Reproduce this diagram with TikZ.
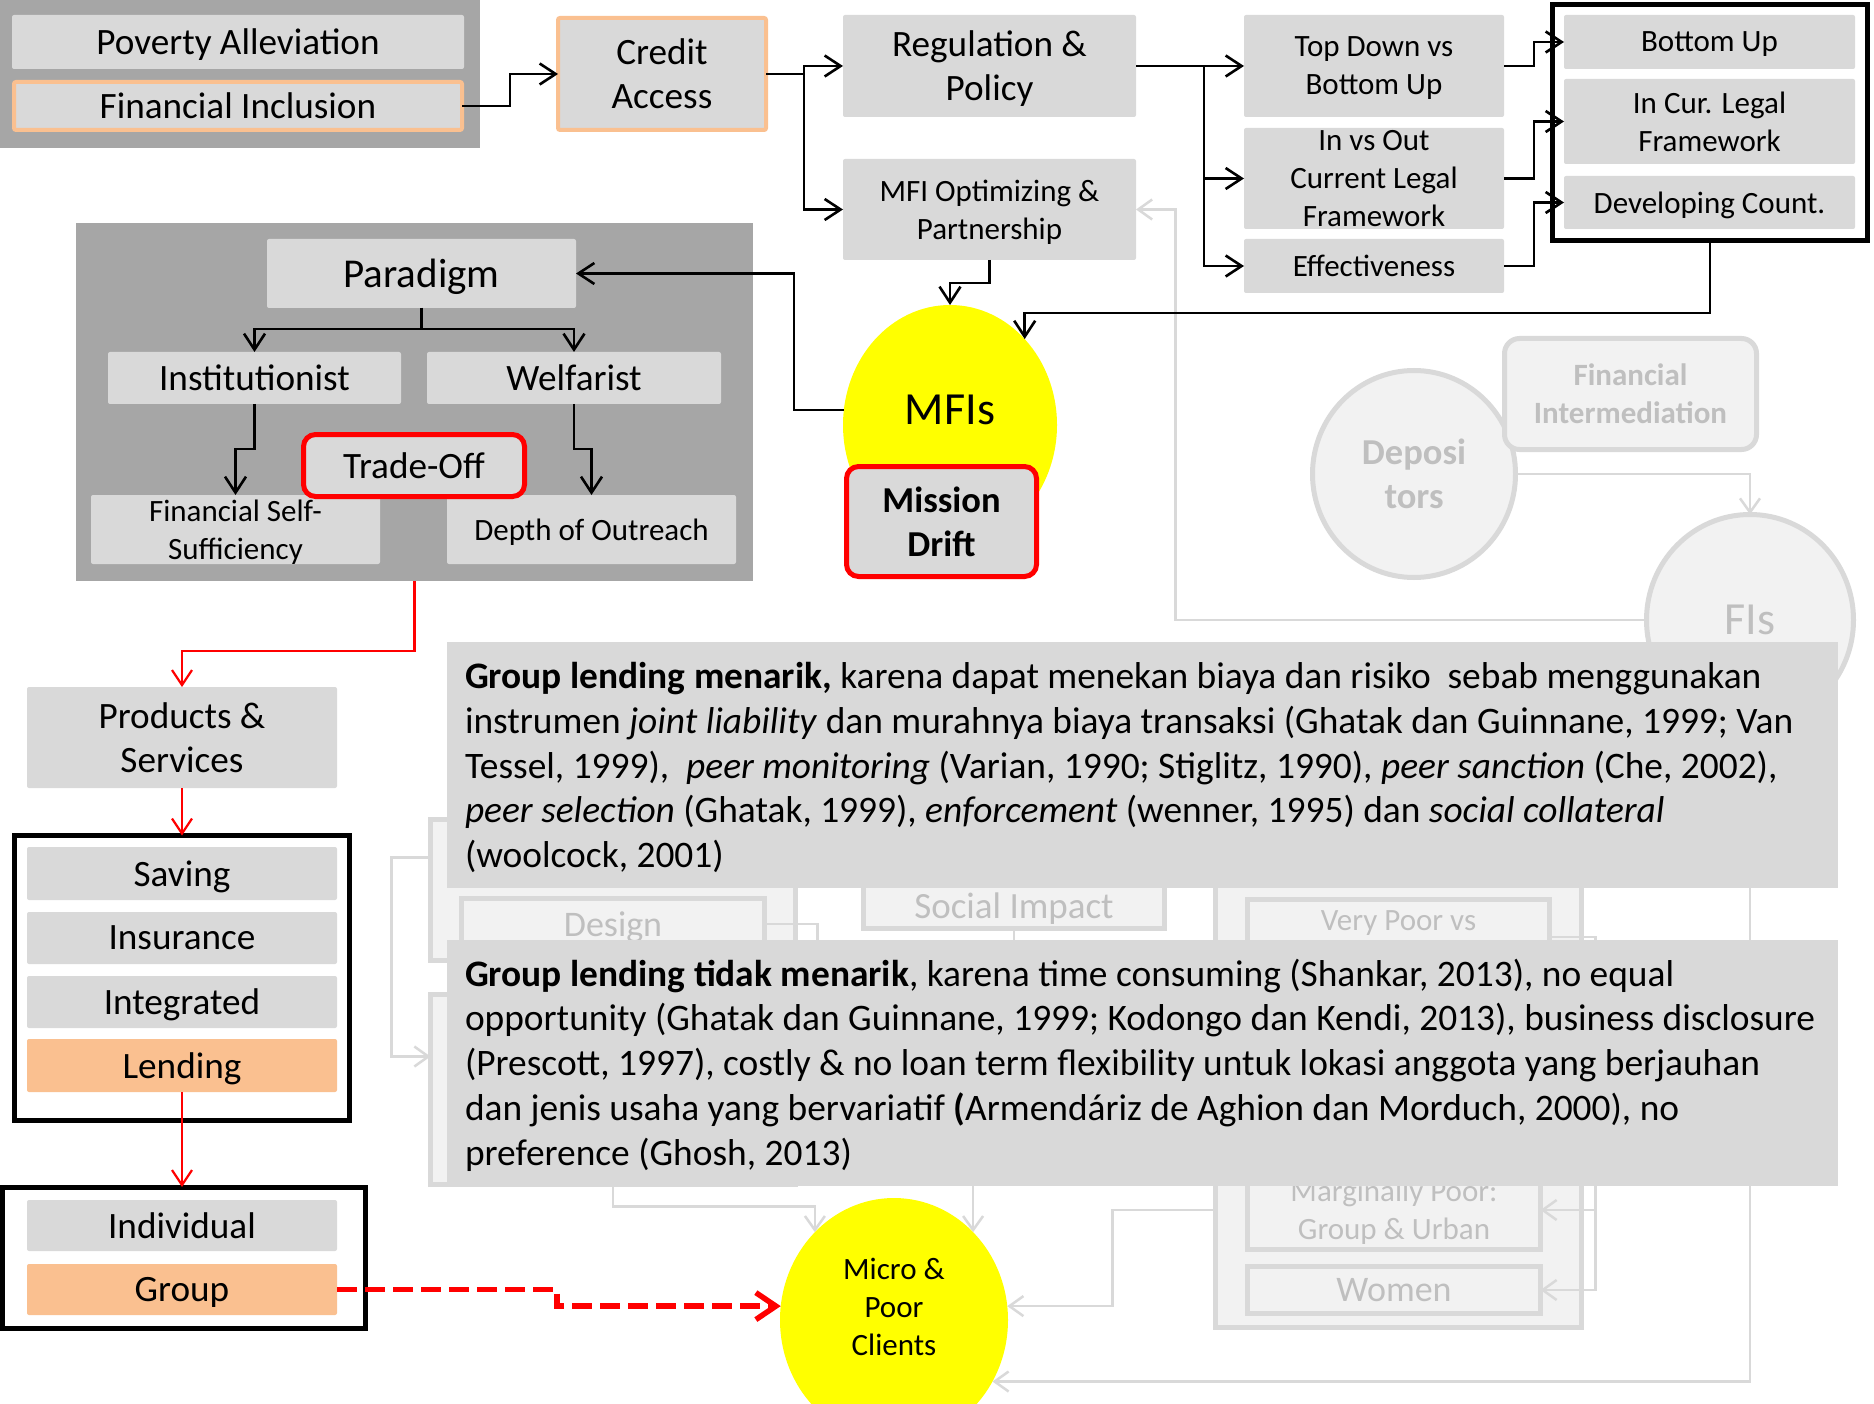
\documentclass[tikz,border=0pt]{standalone}
\usepackage{fontspec}
\setmainfont{Carlito}
\usetikzlibrary{arrows.meta,shapes.geometric,calc}

\definecolor{boxgray}{HTML}{D9D9D9}
\definecolor{groupgray}{HTML}{A6A6A6}
\definecolor{peach}{HTML}{FAC090}
\definecolor{ghostfill}{HTML}{F2F2F2}
\definecolor{ghostline}{HTML}{D9D9D9}
\definecolor{ghosttext}{HTML}{BFBFBF}
\definecolor{sun}{HTML}{FFFF00}

\newcommand\fsz[2]{\fontsize{#1pt}{#2pt}\selectfont}

\pgfdeclarelayer{paper}
\pgfdeclarelayer{ghostnodes}
\pgfdeclarelayer{ghostlinks}
\pgfsetlayers{paper,ghostnodes,ghostlinks,main}

\begin{document}
\begin{tikzpicture}[x=1pt,y=-1pt,
  every node/.style={inner sep=0pt,outer sep=0pt,align=center,text=black,text depth=-2pt},
  grp/.style={fill=groupgray},
  gbox/.style={fill=boxgray,rounded corners=2pt},
  peachbox/.style={fill=peach,rounded corners=2pt},
  peachrim/.style={draw=peach,line width=4pt},
  redrim/.style={draw=red,line width=5pt,rounded corners=12pt},
  boxframe/.style={draw=black,line width=5pt,fill=white},
  blob/.style={ellipse,fill=sun},
  ghostbox/.style={draw=ghostline,line width=5pt,fill=ghostfill,text=ghosttext},
  ghostcirc/.style={ellipse,draw=ghostline,line width=5pt,fill=ghostfill,text=ghosttext},
  tbox/.style={fill=boxgray},
  bigtext/.style={font=\fsz{37.2}{44}},
  smalltext/.style={font=\fsz{31}{38},text depth=-5pt},
  blacklink/.style={draw=black,line width=2.6pt,-{Straight Barb[length=16pt,width=21pt]}},
  redlink/.style={draw=red,line width=2.2pt,-{Straight Barb[length=15pt,width=20pt]}},
  reddash/.style={draw=red,line width=5.5pt,dash pattern=on 20pt off 8pt,-{Straight Barb[length=20pt,width=27pt]}},
  ghostlink/.style={draw=ghostline,line width=2.5pt,-{Straight Barb[length=14pt,width=20pt]}},
  ghostpath/.style={draw=ghostline,line width=2.5pt},
]
\begin{pgfonlayer}{paper}
\fill[white] (0,0) rectangle (1874,1404);
\end{pgfonlayer}
\useasboundingbox (0,0) rectangle (1874,1404);

% goals and access
\node[grp,minimum width=480,minimum height=148] (goalgrp) at (240,74) {};
\node[gbox,bigtext,minimum width=452,minimum height=54] (poverty) at (238,42) {Poverty Alleviation};
\node[gbox,peachrim,bigtext,minimum width=448,minimum height=48] (fininc) at (238,106) {Financial Inclusion};
\node[gbox,peachrim,bigtext,minimum width=208,minimum height=112] (credit) at (662,74) {Credit\\Access};

% regulation branch
\node[gbox,bigtext,minimum width=293,minimum height=102] (reg) at (989.5,66) {Regulation \&\\Policy};
\node[gbox,smalltext,minimum width=293,minimum height=101] (mfiopt) at (989.5,209.5) {MFI Optimizing \&\\Partnership};
\node[gbox,smalltext,minimum width=260,minimum height=102] (topdown) at (1374,66) {Top Down vs\\Bottom Up};
\node[gbox,smalltext,minimum width=260,minimum height=101] (inout) at (1374,178.5) {In vs Out\\Current Legal\\Framework};
\node[gbox,smalltext,minimum width=260,minimum height=54] (effect) at (1374,266) {Effectiveness};
\node[boxframe,minimum width=315,minimum height=236] (bugrp) at (1710,122.5) {};
\node[gbox,smalltext,minimum width=291,minimum height=54] (bottomup) at (1709.5,42) {Bottom Up};
\node[gbox,smalltext,minimum width=291,minimum height=85] (incur) at (1709.5,121.5) {In Cur. Legal\\Framework};
\node[gbox,smalltext,minimum width=291,minimum height=53] (devcount) at (1709.5,202.5) {Developing Count.};

% paradigm block
\node[grp,minimum width=677,minimum height=358] (paragrp) at (414.5,402) {};
\node[gbox,font=\fsz{41}{48},minimum width=309,minimum height=69] (paradigm) at (421.5,273.5) {Paradigm};
\node[gbox,bigtext,minimum width=293,minimum height=52] (inst) at (254.5,378) {Institutionist};
\node[gbox,bigtext,minimum width=294,minimum height=52] (welf) at (574,378) {Welfarist};
\node[gbox,smalltext,minimum width=289,minimum height=69] (fss) at (235.5,529.5) {Financial Self-\\Sufficiency};
\node[gbox,smalltext,minimum width=289,minimum height=69] (depth) at (591.5,529.5) {Depth of Outreach};
\node[gbox,redrim,bigtext,minimum width=221,minimum height=62] (tradeoff) at (414,465.5) {Trade-Off};

% MFIs
\node[blob,minimum width=214,minimum height=240,
  label={[name=mfisname,font=\fsz{46}{52},yshift=15pt]center:MFIs}] (mfis) at (950,425) {};
\node[gbox,redrim,font=\bfseries\fsz{36.5}{44},minimum width=190,minimum height=110] (drift) at (941.5,521.5) {Mission\\Drift};

% argument boxes
\node[tbox,minimum width=1391,minimum height=246] (tb1) at (1142.5,765) {};
\node[anchor=base west,align=left,font=\fsz{37.4}{44.7}] (tb1text) at (465,867.5)
{\textbf{Group lending menarik,} karena dapat menekan biaya dan risiko\ \ sebab menggunakan\\
instrumen \textit{joint liability} dan murahnya biaya transaksi (Ghatak dan Guinnane, 1999; Van\\
Tessel, 1999),\ \ \textit{peer monitoring} (Varian, 1990; Stiglitz, 1990), \textit{peer sanction} (Che, 2002),\\
\textit{peer selection} (Ghatak, 1999), \textit{enforcement} (wenner, 1995) dan \textit{social collateral}\\
(woolcock, 2001)};
\node[tbox,minimum width=1391,minimum height=246] (tb2) at (1142.5,1063) {};
\node[anchor=base west,align=left,font=\fsz{37.4}{44.7}] (tb2text) at (465,1165)
{\textbf{Group lending tidak menarik}, karena time consuming (Shankar, 2013), no equal\\
opportunity (Ghatak dan Guinnane, 1999; Kodongo dan Kendi, 2013), business disclosure\\
(Prescott, 1997), costly \& no loan term flexibility untuk lokasi anggota yang berjauhan\\
dan jenis usaha yang bervariatif \textbf{(}Armendáriz de Aghion dan Morduch, 2000), no\\
preference (Ghosh, 2013)};

% products and services
\node[gbox,bigtext,minimum width=310,minimum height=101] (prod) at (182,737.5) {Products \&\\Services};
\node[boxframe,minimum width=335,minimum height=285] (prodgrp) at (182,978) {};
\node[gbox,bigtext,minimum width=310,minimum height=53] (saving) at (182,873.5) {Saving};
\node[gbox,bigtext,minimum width=310,minimum height=52] (insurance) at (182,938) {Insurance};
\node[gbox,bigtext,minimum width=310,minimum height=52] (integrated) at (182,1002) {Integrated};
\node[peachbox,bigtext,minimum width=310,minimum height=53] (lending) at (182,1065.5) {Lending};
\node[boxframe,minimum width=363,minimum height=141] (lendgrp) at (184,1257.5) {};
\node[gbox,bigtext,minimum width=310,minimum height=51] (individual) at (182,1225.5) {Individual};
\node[peachbox,bigtext,minimum width=310,minimum height=51] (group) at (182,1289.5) {Group};

% clients
\node[blob,minimum width=228,minimum height=244,
  label={[name=mpcname,font=\fsz{31}{38},yshift=13pt]center:Micro \&\\Poor\\Clients}] (mpc) at (894,1320) {};

% main connectors
\draw[blacklink] (fininc.east) -- ++(48,0) |- (credit.west);
\draw[blacklink] (credit.east) -- ++(38,0) |- (reg.west);
\draw[blacklink] (credit.east) -- ++(38,0) |- (mfiopt.west);
\foreach \tgt in {topdown,inout,effect}
  \draw[blacklink] (reg.east) -- ++(68,0) |- (\tgt.west);
\draw[blacklink] (topdown.east) -- ++(30,0) |- (bottomup.west);
\draw[blacklink] (inout.east) -- ++(30,0) |- (incur.west);
\draw[blacklink] (effect.east) -- ++(30,0) |- (devcount.west);
\draw[blacklink] (bugrp.south) -- ++(0,72.5) -| (mfis.49);
\draw[blacklink] (mfiopt.south) -- ++(0,23) -| (mfis.north);
\draw[blacklink] (mfis.172) -- ++(-50,0) |- (paradigm.east);
\draw[blacklink] (paradigm.south) -- ++(0,21) -| (inst.north);
\draw[blacklink] (paradigm.south) -- ++(0,21) -| (welf.north);
\draw[blacklink] (inst.south) -- ++(0,45) -| (fss.north);
\draw[blacklink] (welf.south) -- ++(0,45) -| (depth.north);
\draw[redlink] (paragrp.south) -- ++(0,70) -| (prod.north);
\draw[redlink] (prod.south) -- (prodgrp.north);
\draw[redlink] (lending.south) -- (lending.south |- lendgrp.north);
\draw[reddash] (group.east) -- ++(220,0) |- (mpc.173);

% faded background layer
\begin{pgfonlayer}{ghostnodes}
\node[ghostcirc,font=\bfseries\fsz{36.5}{44},minimum width=203,minimum height=207] (dep) at (1414,474) {Deposi\\tors};
\node[ghostbox,rounded corners=15pt,font=\bfseries\fsz{31}{38},minimum width=252,minimum height=111] (finint) at (1630.5,394) {Financial\\Intermediation};
\node[ghostcirc,font=\fsz{46}{52},minimum width=207,minimum height=211] (fis) at (1750,620) {FIs};
\node[ghostbox,minimum width=365,minimum height=141] (lgone) at (613,890) {};
\node[ghostbox,minimum width=365,minimum height=190] (lgtwo) at (613,1089.5) {};
\node[ghostbox,font=\fsz{36}{44},minimum width=303,minimum height=51] (design) at (613,924) {Design};
\node[ghostbox,font=\fsz{37}{44},minimum width=301,minimum height=45] (social) at (1014,906) {Social Impact};
\node[ghostbox,minimum width=366,minimum height=445] (rgo) at (1398.5,1105) {};
\node[ghostbox,minimum width=302,minimum height=75,
  label={[name=vpoorname,font=\fsz{31}{38},text=ghosttext,yshift=16pt]center:Very Poor vs}] (vpoor) at (1398.5,937) {};
\node[ghostbox,font=\fsz{31}{38},text depth=-4pt,minimum width=293,minimum height=79] (marg) at (1394,1210) {Marginally Poor:\\Group \& Urban};
\node[ghostbox,font=\fsz{36}{44},minimum width=293,minimum height=47] (women) at (1394,1290) {Women};
\end{pgfonlayer}

\begin{pgfonlayer}{ghostlinks}
\draw[ghostlink] (fis.west) -- ++(-471,0) |- (mfiopt.east);
\draw[ghostlink] (dep.east) -| (fis.north);
\draw[ghostlink] ($(lgone.north west)+(0,38)$) -- ++(-39,0) |- ($(lgtwo.north west)+(0,62)$);
\draw[ghostpath] (design.east) -- ++(53,0) -- ++(0,40);
\draw[ghostpath] (social.south) -- ++(0,30);
\draw[ghostlink] (vpoor.east) -- ++(46,0) |- (marg.east);
\draw[ghostlink] (vpoor.east) -- ++(46,0) |- (women.east);
\draw[ghostlink] (rgo.west |- marg.center) -- ++(-103,0) |- (mpc.7);
\draw[ghostlink] (fis.south) |- (mpc.-32);
\draw[ghostlink] (lgtwo.south) -- ++(0,22) -| (mpc.132);
\draw[ghostlink] (mpc.48 |- tb2.south) -- (mpc.48);
\end{pgfonlayer}
\end{tikzpicture}
\end{document}
